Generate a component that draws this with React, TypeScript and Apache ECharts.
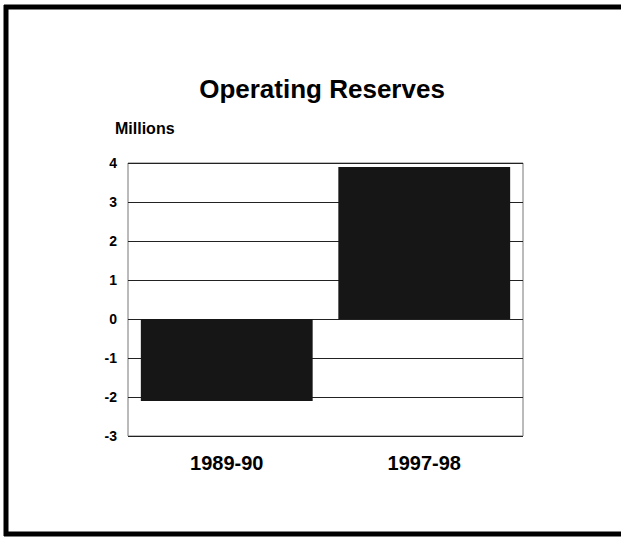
import React, { useEffect, useRef } from "react";
import * as echarts from "echarts";

const categories = ["1989-90", "1997-98"];
const reserves = [-2.1, 3.9];
const titleText = "Operating Reserves";
const unitText = "Millions";

export default function App() {
  const ref = useRef<HTMLDivElement>(null);
  useEffect(() => {
    document.body.style.margin = "0";
    const chart = echarts.init(ref.current!, null, { renderer: "svg" });
    const frame = { fill: "none", stroke: "#000", lineWidth: 5 };
    chart.setOption({
      animation: false,
      backgroundColor: "#ffffff",
      title: {
        text: titleText,
        left: 317,
        textAlign: "center",
        top: 71,
        textStyle: { fontFamily: "Liberation Sans, Arial", fontWeight: "bold", fontSize: 26, color: "#000" },
      },
      graphic: [
        { type: "line", shape: { x1: 4, y1: 7, x2: 621, y2: 7 }, style: frame, silent: true },
        { type: "line", shape: { x1: 6, y1: 5, x2: 6, y2: 536 }, style: frame, silent: true },
        { type: "line", shape: { x1: 4, y1: 534, x2: 621, y2: 534 }, style: frame, silent: true },
        {
          type: "text",
          x: 115,
          y: 120,
          style: { text: unitText, fontFamily: "Liberation Sans, Arial", fontWeight: "bold", fontSize: 16, fill: "#000" },
        },
      ],
      grid: {
        left: 128,
        right: 98,
        top: 163,
        bottom: 105,
        show: true,
        borderColor: "#777",
        borderWidth: 1,
        backgroundColor: "transparent",
      },
      xAxis: {
        type: "category",
        data: categories,
        position: "bottom",
        axisLine: { show: false },
        axisTick: { show: false },
        axisLabel: {
          margin: 17,
          fontFamily: "Liberation Sans, Arial",
          fontWeight: "bold",
          fontSize: 20,
          color: "#000",
        },
      },
      yAxis: {
        type: "value",
        min: -3,
        max: 4,
        interval: 1,
        axisLine: { show: false },
        axisTick: { show: false },
        splitLine: { show: true, lineStyle: { color: "#222", width: 1 } },
        axisLabel: {
          margin: 11,
          fontFamily: "Liberation Sans, Arial",
          fontWeight: "bold",
          fontSize: 14,
          color: "#000",
        },
      },
      series: [
        {
          type: "bar",
          data: reserves,
          barCategoryGap: "13%",
          itemStyle: { color: "#161616" },
        },
      ],
    });
    return () => chart.dispose();
  }, []);
  return <div ref={ref} style={{ position: "absolute", left: 0, top: 0, width: 621, height: 541 }} />;
}
